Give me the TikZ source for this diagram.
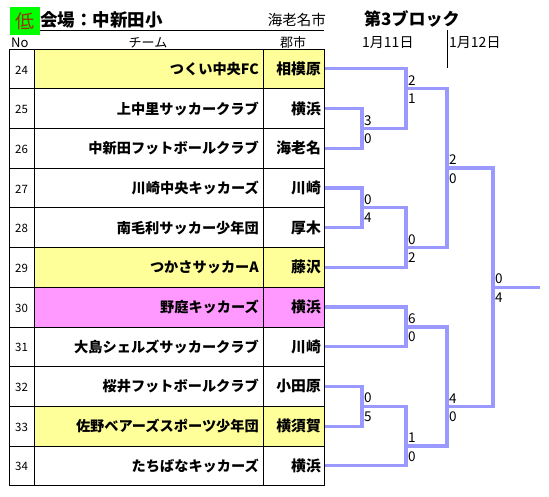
\documentclass[tikz,border=0pt]{standalone}
\usepackage{fontspec}
\setmainfont{Noto Sans CJK JP}
\definecolor{brk}{RGB}{153,153,255}
\definecolor{yel}{RGB}{255,255,153}
\definecolor{pnk}{RGB}{255,153,255}
\definecolor{lowred}{RGB}{153,51,0}
\definecolor{lowgreen}{RGB}{0,255,0}
\begin{document}
\begin{tikzpicture}[x=1pt,y=-1pt,
  numtxt/.style={anchor=west,inner sep=0pt,font=\fontsize{11.5}{12}\selectfont},
  teamtxt/.style={anchor=east,inner sep=0pt,font=\fontsize{14.2}{15}\selectfont\bfseries},
  citytxt/.style={anchor=east,inner sep=0pt,font=\fontsize{14.8}{15}\selectfont\bfseries},
  hdr/.style={inner sep=0pt,font=\fontsize{13}{14}\selectfont},
  score/.style={inner sep=0pt,font=\fontsize{13.5}{14}\selectfont},
  brline/.style={draw=brk,line width=3.2pt,line join=miter},
  grid/.style={draw=black,line width=0.8pt}]
\useasboundingbox (0,0) rectangle (549,497);
% ---------- header ----------
\node[fill=lowgreen,minimum width=30pt,minimum height=28pt,inner sep=0pt,
      text=lowred,font=\fontsize{19}{20}\selectfont] (low) at (25,21) {低};
\node[anchor=west,inner sep=0pt,font=\fontsize{17.5}{18}\selectfont\bfseries] (venue) at (40,20) {会場：中新田小};
\node[anchor=east,inner sep=0pt,font=\fontsize{14.5}{15}\selectfont] (city) at (326,20) {海老名市};
\coordinate (ulA) at (40,30.5);
\coordinate (ulB) at (324,30.5);
\draw[line width=0.8pt] (ulA) -- (ulB);
\node[anchor=west,inner sep=0pt,font=\fontsize{17}{18}\selectfont\bfseries] (block) at (364,19) {第3ブロック};
\node[hdr,anchor=west] (hno) at (11,43) {No};
\node[hdr] (hteam) at (148,43) {チーム};
\node[hdr] (hcity) at (293,43) {郡市};
\node[hdr,anchor=west,font=\fontsize{14}{14}\selectfont] (d1) at (362,43) {1月11日};
\node[hdr,anchor=west,font=\fontsize{14}{14}\selectfont] (d2) at (449,43) {1月12日};
\coordinate (vA) at (447,30);
\coordinate (vB) at (447,68);
\draw[line width=0.8pt] (vA) -- (vB);
% ---------- table ----------
\def\rh{39.7}
\foreach \i/\no/\team/\cityn/\col in {
  0/24/つくい中央FC/相模原/yel,
  1/25/上中里サッカークラブ/横浜/white,
  2/26/中新田フットボールクラブ/海老名/white,
  3/27/川崎中央キッカーズ/川崎/white,
  4/28/南毛利サッカー少年団/厚木/white,
  5/29/つかさサッカーA/藤沢/yel,
  6/30/野庭キッカーズ/横浜/pnk,
  7/31/大島シェルズサッカークラブ/川崎/white,
  8/32/桜井フットボールクラブ/小田原/white,
  9/33/佐野ベアーズスポーツ少年団/横須賀/yel,
  10/34/たちばなキッカーズ/横浜/white}{
  \pgfmathsetmacro{\yt}{49+\rh*\i}
  \pgfmathsetmacro{\yb}{49+\rh*(\i+1)}
  \pgfmathsetmacro{\yc}{49+\rh*(\i+0.5)}
  \fill[\col] (34,\yt) rectangle (324,\yb);
  \draw[grid] (9,\yt) rectangle (34,\yb);
  \draw[grid] (34,\yt) rectangle (263,\yb);
  \draw[grid] (263,\yt) rectangle (324,\yb);
  \node[numtxt] (n\no) at (15,\yc+1) {\no};
  \node[teamtxt] (t\no) at (259,\yc) {\team};
  \node[citytxt] (c\no) at (321,\yc) {\cityn};
  \coordinate (e\no) at (325,\yc);
}
% ---------- bracket ----------
\coordinate (m1) at (362,128.4);
\coordinate (m2) at (362,207.8);
\coordinate (m3) at (362,406.3);
\coordinate (k1) at (406,88.7);
\coordinate (k2) at (406,247.5);
\coordinate (k3) at (406,326.9);
\coordinate (k4) at (406,446);
\coordinate (s1) at (447,168.1);
\coordinate (s2) at (447,406.3);
\coordinate (f) at (493,287.2);
\coordinate (fend) at (540,287.2);
\draw[brline] (e25) -| (m1) |- (e26);
\draw[brline] (e27) -| (m2) |- (e28);
\draw[brline] (e32) -| (m3) |- (e33);
\draw[brline] (e24) -| (k1);
\draw[brline] (m1) -| (k1);
\draw[brline] (m2) -| (k2);
\draw[brline] (e29) -| (k2);
\draw[brline] (e30) -| (k3) |- (e31);
\draw[brline] (m3) -| (k4);
\draw[brline] (e34) -| (k4);
\draw[brline] (k1) -| (s1);
\draw[brline] (k2) -| (s1);
\draw[brline] (k3) -| (s2);
\draw[brline] (k4) -| (s2);
\draw[brline] (s1) -| (f);
\draw[brline] (s2) -| (f);
\draw[brline] (f) -- (fend);
% ---------- scores ----------
\foreach \p/\a/\b in {m1/3/0, m2/0/4, m3/0/5, k1/2/1, k2/0/2, k3/6/0, k4/1/0, s1/2/0, s2/4/0, f/0/4}{
  \node[score,anchor=south west] (\p a) at ([xshift=2pt,yshift=3pt]\p) {\a};
  \node[score,anchor=north west] (\p b) at ([xshift=2pt,yshift=-5pt]\p) {\b};
}
\end{tikzpicture}
\end{document}
